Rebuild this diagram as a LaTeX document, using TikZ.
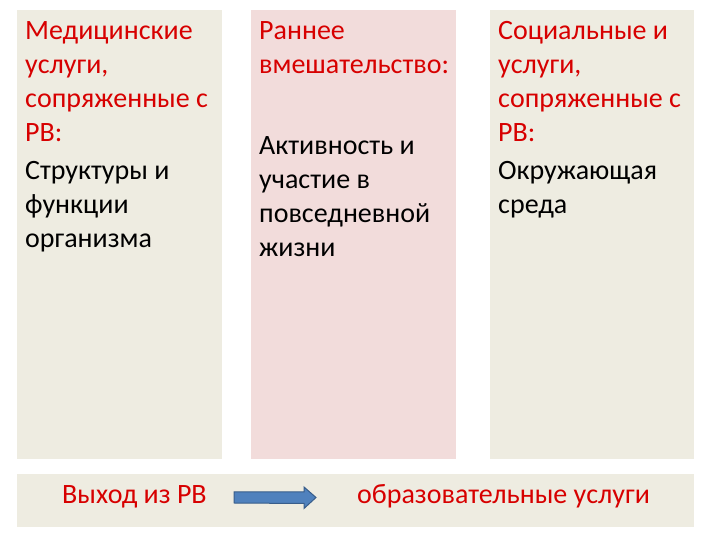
\documentclass[tikz,border=0pt]{standalone}
\usepackage{fontspec}
\setmainfont{Carlito}
\definecolor{tanbg}{HTML}{EEECE1}
\definecolor{pinkbg}{HTML}{F2DCDB}
\definecolor{redtxt}{RGB}{215,0,0}
\definecolor{arrfill}{HTML}{4F81BD}
\definecolor{arrline}{HTML}{385D8A}
\begin{document}
\begin{tikzpicture}[x=1pt,y=1pt,
  panel/.style={draw=none, anchor=north west, inner sep=0pt, minimum height=449pt},
  txt/.style={anchor=base west, inner sep=0pt, align=left, font=\fontsize{28}{34.3}\selectfont},
  head/.style={txt, text=redtxt},
  body/.style={txt, text=black}]
\useasboundingbox (0,0) rectangle (720,540);
\fill[white] (0,0) rectangle (720,540);
% panels
\node[panel, fill=tanbg, minimum width=205pt] (pl) at (17,530) {};
\node[panel, fill=pinkbg, minimum width=205pt] (pm) at (251,530) {};
\node[panel, fill=tanbg, minimum width=204pt] (pr) at (490,530) {};
\node[panel, fill=tanbg, minimum width=677pt, minimum height=53pt] (pb) at (17,66) {};
% texts (anchored at the baseline of the last line)
\node[head] (lh) at (25,398) {Медицинские\\услуги,\\сопряженные с\\РВ:};
\node[body] (lb) at (25,292) {Структуры и\\функции\\организма};
\node[head] (mh) at (259,466) {Раннее\\вмешательство:};
\node[body] (mb) at (259,283) {Активность и\\участие в\\повседневной\\жизни};
\node[head] (rh) at (498,398) {Социальные и\\услуги,\\сопряженные с\\РВ:};
\node[body] (rb) at (498,326) {Окружающая\\среда};
\node[head] (exit) at (62,36) {Выход из РВ};
\node[head] (edu) at (357,36) {образовательные услуги};
% block arrow
\coordinate (as) at (234,42.5);
\coordinate (ae) at (316,42.5);
\draw[draw=arrline, fill=arrfill, line width=1pt, line join=miter]
  ([yshift=5.5pt]as) -- ++(70,0) -- ++(0,5) -- (ae) -- ++(-12,-11) -- ++(0,5)
  -- ([yshift=-5.5pt]as) -- cycle;
\end{tikzpicture}
\end{document}
